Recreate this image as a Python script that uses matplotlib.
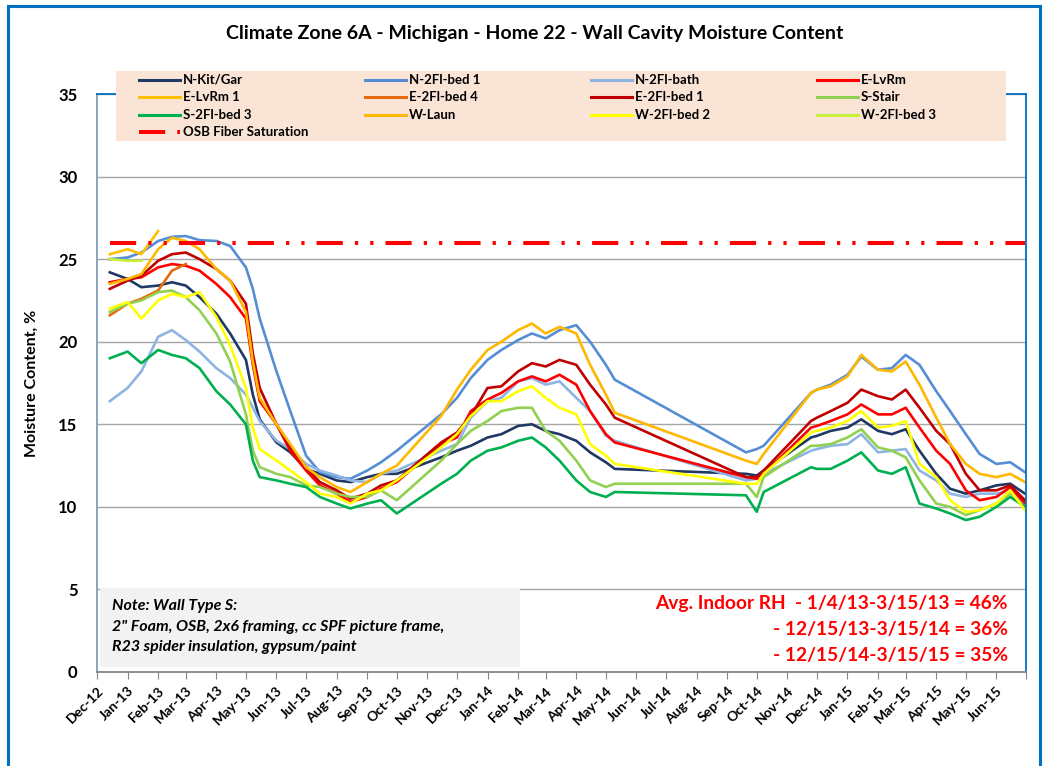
import matplotlib
matplotlib.use("Agg")
import matplotlib.pyplot as plt
import pandas as pd
from matplotlib.lines import Line2D
from matplotlib.patches import Rectangle

plt.rcParams['font.family'] = ['Lato', 'DejaVu Sans']

# sample dates (readings taken roughly twice a month off the chart; gaps = no data)
dates = ["2012-12-14", "2013-01-01", "2013-01-15", "2013-02-01", "2013-02-15", "2013-03-01",
         "2013-03-15", "2013-04-01", "2013-04-15", "2013-05-01", "2013-05-08", "2013-05-15",
         "2013-06-01", "2013-06-15", "2013-07-01", "2013-07-15", "2013-08-01", "2013-08-15",
         "2013-09-01", "2013-09-15", "2013-10-01", "2013-11-15", "2013-12-01", "2013-12-15",
         "2014-01-01", "2014-01-15", "2014-02-01", "2014-02-15", "2014-03-01", "2014-03-15",
         "2014-04-01", "2014-04-15", "2014-05-01", "2014-05-10", "2014-09-20", "2014-10-01",
         "2014-10-08", "2014-11-25", "2014-12-01", "2014-12-15", "2015-01-01", "2015-01-15",
         "2015-02-01", "2015-02-15", "2015-03-01", "2015-03-15", "2015-04-01", "2015-04-15",
         "2015-05-01", "2015-05-15", "2015-06-01", "2015-06-15", "2015-06-30"]

n_kit_gar = [24.2, 23.8, 23.3, 23.4, 23.6, 23.4, 22.7, 21.7, 20.5, 18.9, 16.8, 15.3, 13.9, 13.3,
             12.3, 12.0, 11.6, 11.5, 11.8, 12.0, 12.0,
             13.0, 13.4, 13.7, 14.2, 14.4, 14.9, 15.0, 14.6, 14.4, 14.0, 13.3, 12.7, 12.3,
             12.0, 11.9, 12.2, 14.2,
             14.3, 14.6, 14.8, 15.3, 14.6, 14.4, 14.7, 13.4, 12.0, 11.1, 10.8, 11.0, 11.3, 11.4, 10.8]
n_2fl_bed1 = [25.0, 25.1, 25.4, 26.1, 26.35, 26.4, 26.15, 26.1, 25.8, 24.5, 23.2, 21.4, 18.2, 15.8,
              13.1, 12.1, 11.8, 11.7, 12.2, 12.7, 13.4,
              15.6, 16.6, 17.8, 18.9, 19.5, 20.1, 20.5, 20.2, 20.7, 21.0, 20.0, 18.6, 17.7,
              13.3, 13.5, 13.7, 16.9,
              17.1, 17.4, 18.0, 19.1, 18.3, 18.4, 19.2, 18.6, 17.0, 15.8, 14.4, 13.2, 12.6, 12.7, 12.1]
n_2fl_bath = [16.4, 17.2, 18.2, 20.3, 20.7, 20.1, 19.4, 18.4, 17.8, 16.8, 16.0, 15.2, 14.0, 13.5,
              12.6, 12.2, 11.9, 11.6, 11.5, 12.0, 12.2,
              13.4, 13.8, 15.4, 16.4, 16.6, 17.6, 17.8, 17.4, 17.6, 16.6, 15.8, 14.3, 14.0,
              11.6, 11.7, 12.0, 13.4,
              13.5, 13.7, 13.8, 14.4, 13.3, 13.4, 13.5, 12.2, 11.6, 10.8, 10.6, 10.8, 10.8, 11.0, 10.2]
e_lvrm = [23.6, 23.8, 23.9, 24.5, 24.7, 24.6, 24.3, 23.5, 22.7, 21.4, 18.6, 16.4, 15.0, 13.4,
          12.2, 11.3, 10.8, 10.3, 10.6, 11.1, 11.5,
          13.8, 14.2, 15.8, 16.5, 16.9, 17.6, 17.9, 17.6, 18.0, 17.4, 15.8, 14.4, 13.9,
          11.8, 11.7, 12.0, 14.8,
          14.9, 15.2, 15.6, 16.2, 15.6, 15.6, 16.0, 14.8, 13.4, 12.6, 11.0, 10.4, 10.6, 11.2, 10.2]
e_lvrm1 = [25.3, 25.6, 25.3, 26.7] + [None] * 49
e_2fl_bed4 = [21.6, 22.3, 22.6, 23.1, 24.3, 24.7] + [None] * 47
e_2fl_bed1 = [23.2, 23.7, 24.0, 24.9, 25.3, 25.4, 25.0, 24.4, 23.7, 22.3, 19.3, 17.2, 15.0, 13.6,
              12.4, 11.5, 11.0, 10.5, 10.8, 11.3, 11.6,
              13.9, 14.5, 15.5, 17.2, 17.3, 18.2, 18.7, 18.5, 18.9, 18.6, 17.4, 16.2, 15.4,
              11.8, 11.8, 12.2, 15.2,
              15.4, 15.8, 16.3, 17.1, 16.7, 16.5, 17.1, 16.0, 14.6, 13.8, 12.0, 11.0, 11.0, 11.3, 10.4]
s_stair = [21.8, 22.3, 22.5, 23.0, 23.1, 22.7, 21.9, 20.5, 18.8, 15.6, 13.4, 12.4, 12.0, 11.8,
           11.3, 11.2, 10.8, 10.6, 10.6, 11.0, 10.4,
           12.8, 13.8, 14.6, 15.2, 15.8, 16.0, 16.0, 14.6, 14.0, 12.8, 11.6, 11.2, 11.4,
           11.4, 10.6, 11.8, 13.7,
           13.7, 13.8, 14.2, 14.7, 13.6, 13.4, 13.0, 11.6, 10.2, 10.0, 9.5, 9.8, 10.2, 10.8, 10.0]
s_2fl_bed3 = [19.0, 19.4, 18.7, 19.5, 19.2, 19.0, 18.4, 17.0, 16.2, 15.0, 12.8, 11.8, 11.6, 11.4,
              11.2, 10.6, 10.2, 9.9, 10.2, 10.4, 9.6,
              11.4, 12.0, 12.8, 13.4, 13.6, 14.0, 14.2, 13.6, 12.8, 11.6, 10.9, 10.6, 10.9,
              10.7, 9.7, 10.9, 12.4,
              12.3, 12.3, 12.8, 13.3, 12.2, 12.0, 12.4, 10.2, 9.9, 9.6, 9.2, 9.4, 10.0, 10.6, 10.0]
w_laun = [23.5, 23.8, 24.1, 25.6, 26.3, 26.1, 25.6, 24.4, 23.7, 21.8, 18.8, 16.6, 15.0, 13.8,
          12.4, 11.8, 11.2, 10.9, 11.5, 12.0, 12.5,
          15.5, 17.1, 18.3, 19.5, 20.0, 20.7, 21.1, 20.5, 20.9, 20.5, 18.6, 16.8, 15.7,
          12.8, 12.6, 13.2, 16.9,
          17.1, 17.3, 17.9, 19.2, 18.3, 18.2, 18.8, 17.4, 15.4, 13.8, 12.6, 12.0, 11.8, 12.0, 11.5]
w_2fl_bed2 = [22.0, 22.4, 21.4, 22.5, 22.9, 22.7, 23.0, 21.5, 19.8, 17.2, 14.8, 13.5, 12.8, 12.2,
              11.5, 10.8, 10.6, 10.2, 10.8, 11.0, 11.6,
              13.6, 14.4, 15.5, 16.4, 16.4, 17.0, 17.3, 16.6, 16.0, 15.6, 13.8, 13.1, 12.6,
              11.4, 11.4, 12.0, 14.5,
              14.6, 14.8, 15.2, 15.8, 14.8, 14.9, 15.2, 12.6, 11.8, 10.4, 9.7, 9.8, 10.2, 11.0, 9.8]
w_2fl_bed3 = [25.0, 24.9, 24.9] + [None] * 50
osb_fiber_sat = 26.0

series = [
    ("N-Kit/Gar", n_kit_gar, "#1F3864"),
    ("N-2Fl-bed 1", n_2fl_bed1, "#558ED5"),
    ("N-2Fl-bath", n_2fl_bath, "#8EB4E3"),
    ("E-LvRm", e_lvrm, "#FF0000"),
    ("E-LvRm 1", e_lvrm1, "#FFC000"),
    ("E-2Fl-bed 4", e_2fl_bed4, "#E46C0A"),
    ("E-2Fl-bed 1", e_2fl_bed1, "#C00000"),
    ("S-Stair", s_stair, "#92D050"),
    ("S-2Fl-bed 3", s_2fl_bed3, "#00B050"),
    ("W-Laun", w_laun, "#FFB800"),
    ("W-2Fl-bed 2", w_2fl_bed2, "#FFFF00"),
    ("W-2Fl-bed 3", w_2fl_bed3, "#C6F03A"),
]
osb_dash = (0, (6.5, 3, 0.8, 3, 0.8, 3))

W, H = 1047, 766
fig = plt.figure(figsize=(W / 100, H / 100), dpi=100)
ax = fig.add_axes([97 / W, 1 - 672 / H, 929 / W, 578 / H])

idx = pd.to_datetime(dates)
for name, vals, col in series:
    s = pd.Series(vals, index=idx, dtype=float).dropna()
    ax.plot(s.index, s.values, color=col, lw=1.9)
ax.plot([idx[0], idx[-1]], [osb_fiber_sat, osb_fiber_sat], color="#FF0000", lw=2.9,
        linestyle=osb_dash, dash_capstyle="butt")

ax.set_xlim(pd.Timestamp("2012-12-01"), pd.Timestamp("2015-07-01"))
ax.set_ylim(0, 35)
ax.set_yticks(range(0, 36, 5))
ax.yaxis.grid(True, color="#A6A6A6", lw=1.0)
ax.set_axisbelow(True)
months = pd.date_range("2012-12-01", "2015-07-01", freq="MS")
ax.set_xticks(months)
labels = [m.strftime("%b-%y") for m in months]
labels[-1] = ""
ax.set_xticklabels(labels, rotation=45, ha="right", rotation_mode="anchor",
                   fontweight="bold", fontsize=10)
for lab in ax.get_yticklabels():
    lab.set_fontweight("bold")
    lab.set_fontsize(12)
ax.tick_params(axis="x", length=5, color="#868686", pad=4)
ax.tick_params(axis="y", length=0, pad=14)
ax.spines["left"].set_color("#7F9DB9")
ax.spines["bottom"].set_color("#868686")
ax.spines["top"].set_color("#0070C0")
ax.spines["right"].set_color("#0070C0")
for sp in ax.spines.values():
    sp.set_linewidth(1.3)
ax.set_ylabel("Moisture Content, %", fontsize=11.5, fontweight="bold", labelpad=14)

# outer chart border
fig.add_artist(Rectangle((8 / W, -0.05), (1040 - 8) / W, 1.05 - 6 / H, transform=fig.transFigure,
                         fill=False, edgecolor="#0070C0", lw=2.2))

fig.text(535 / W, 1 - 33 / H, "Climate Zone 6A - Michigan - Home 22 - Wall Cavity Moisture Content",
         ha="center", va="center", fontsize=14, fontweight="bold")

# legend drawn by hand, row-major like Excel
fig.add_artist(Rectangle((116 / W, 1 - 141 / H), 890 / W, 70 / H, transform=fig.transFigure,
                         facecolor="#FAE4D6", edgecolor="none", zorder=5))
entries = [(n, c) for n, _, c in series] + [("OSB Fiber Saturation", "#FF0000")]
for i, (name, col) in enumerate(entries):
    r, c = divmod(i, 4)
    x0 = 139 + c * 226
    y = 80 + r * 17.3
    if name == "OSB Fiber Saturation":
        ln = Line2D([x0 / W, (x0 + 41) / W], [1 - y / H] * 2, color=col, lw=2.9,
                    linestyle=osb_dash, dash_capstyle="butt", transform=fig.transFigure, zorder=6)
    else:
        ln = Line2D([x0 / W, (x0 + 41) / W], [1 - y / H] * 2, color=col, lw=2.2,
                    transform=fig.transFigure, zorder=6)
    fig.add_artist(ln)
    fig.text((x0 + 44) / W, 1 - y / H, name, ha="left", va="center", fontsize=9.5,
             fontweight="bold", zorder=7)

# note box
fig.add_artist(Rectangle((100 / W, 1 - 667 / H), 420 / W, 79 / H, transform=fig.transFigure,
                         facecolor="#F2F2F2", edgecolor="none", zorder=3))
note = ["Note: Wall Type S:",
        "2\" Foam, OSB, 2x6 framing, cc SPF picture frame,",
        "R23 spider insulation, gypsum/paint"]
for k, line in enumerate(note):
    fig.text(112 / W, 1 - (606 + k * 20.5) / H, line, ha="left", va="center", fontsize=11.5,
             fontweight="bold", style="italic", zorder=4)

rh_text = ["Avg. Indoor RH  - 1/4/13-3/15/13 = 46%",
           "- 12/15/13-3/15/14 = 36%",
           "- 12/15/14-3/15/15 = 35%"]
for k, line in enumerate(rh_text):
    fig.text(1008 / W, 1 - (604 + k * 26) / H, line, ha="right", va="center", fontsize=13.8,
             fontweight="bold", color="#FF0000", zorder=4)

fig.savefig("out.png", dpi=100)
